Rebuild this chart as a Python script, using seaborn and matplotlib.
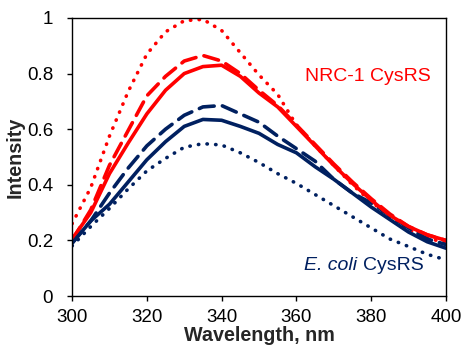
import matplotlib
matplotlib.use("Agg")
import matplotlib.pyplot as plt
import seaborn as sns
import pandas as pd

wavelength = [300, 305, 310, 315, 320, 325, 330, 335, 340, 345, 350,
              355, 360, 365, 370, 375, 380, 385, 390, 395, 400]

nrc_dotted = [0.26, 0.39, 0.575, 0.735, 0.87, 0.95, 0.99, 0.995, 0.955, 0.875, 0.795,
              0.725, 0.615, 0.54, 0.47, 0.40, 0.34, 0.285, 0.24, 0.21, 0.19]
nrc_dashed = [0.20, 0.31, 0.47, 0.595, 0.72, 0.79, 0.845, 0.865, 0.845, 0.80, 0.74,
              0.685, 0.615, 0.545, 0.475, 0.41, 0.35, 0.295, 0.25, 0.22, 0.20]
nrc_solid = [0.205, 0.30, 0.44, 0.55, 0.655, 0.74, 0.80, 0.825, 0.83, 0.79, 0.73,
             0.68, 0.61, 0.54, 0.47, 0.405, 0.345, 0.29, 0.25, 0.22, 0.20]
eco_dashed = [0.19, 0.27, 0.37, 0.46, 0.54, 0.60, 0.65, 0.68, 0.685, 0.655, 0.625,
              0.575, 0.53, 0.485, 0.42, 0.37, 0.335, 0.29, 0.245, 0.205, 0.185]
eco_solid = [0.19, 0.27, 0.33, 0.41, 0.49, 0.555, 0.61, 0.635, 0.632, 0.61, 0.585,
             0.545, 0.515, 0.465, 0.42, 0.37, 0.32, 0.275, 0.23, 0.195, 0.172]
eco_dotted = [0.18, 0.25, 0.315, 0.385, 0.45, 0.495, 0.535, 0.548, 0.543, 0.515, 0.48,
              0.44, 0.405, 0.365, 0.325, 0.285, 0.245, 0.205, 0.178, 0.15, 0.13]

x_ticks = [300, 320, 340, 360, 380, 400]
y_ticks = [0, 0.2, 0.4, 0.6, 0.8, 1.0]
y_tick_labels = ["0", "0.2", "0.4", "0.6", "0.8", "1"]

RED = "#FF0000"
NAVY = "#002060"

sns.set_style("white")
plt.rcParams["font.family"] = ["Liberation Sans", "DejaVu Sans"]
plt.rcParams["ytick.major.pad"] = 10
plt.rcParams["xtick.major.pad"] = 6
plt.rcParams["xtick.major.size"] = 3.6
plt.rcParams["ytick.major.size"] = 3.6

fig = plt.figure(figsize=(4.65, 3.45), dpi=100)
ax = fig.add_axes([0.155, 0.142, 0.804, 0.806])

series = [
    (nrc_dotted, RED, (0, (0.1, 2.3))),
    (eco_dotted, NAVY, (0, (0.1, 2.3))),
    (nrc_dashed, RED, (0, (4.2, 2.3))),
    (eco_dashed, NAVY, (0, (4.2, 2.3))),
    (nrc_solid, RED, "-"),
    (eco_solid, NAVY, "-"),
]
for vals, col, ls in series:
    df = pd.DataFrame({"wl": wavelength, "v": vals})
    sns.lineplot(data=df, x="wl", y="v", ax=ax, color=col, linewidth=2.6,
                 linestyle=ls, solid_capstyle="round", dash_capstyle="round")

ax.set_xlim(300, 400)
ax.set_ylim(0, 1)
ax.set_xticks(x_ticks)
ax.set_xticklabels([str(t) for t in x_ticks])
ax.set_yticks(y_ticks)
ax.set_yticklabels(y_tick_labels)
ax.tick_params(axis="both", direction="out", length=3.6, width=1, labelsize=13.5,
               colors="black", left=True, bottom=True)
ax.tick_params(axis="y", pad=10)
ax.tick_params(axis="x", pad=6)
for s in ax.spines.values():
    s.set_visible(True)
    s.set_color("black")
    s.set_linewidth(1.0)

ax.set_xlabel("Wavelength, nm", fontsize=14.2, fontweight="bold")
ax.set_ylabel("Intensity", fontsize=14.2, fontweight="bold")
ax.yaxis.set_label_coords(-0.126, 0.5)
ax.xaxis.set_label_coords(0.5, -0.108)

ax.text(379, 0.788, "NRC-1 CysRS", color=RED, fontsize=14, ha="center", va="center")
ax.text(376.3, 0.108, "E. coli", color=NAVY, fontsize=14, ha="right", va="center",
        style="italic")
ax.text(377.8, 0.108, "CysRS", color=NAVY, fontsize=14, ha="left", va="center")

fig.savefig("out.png", dpi=100)
